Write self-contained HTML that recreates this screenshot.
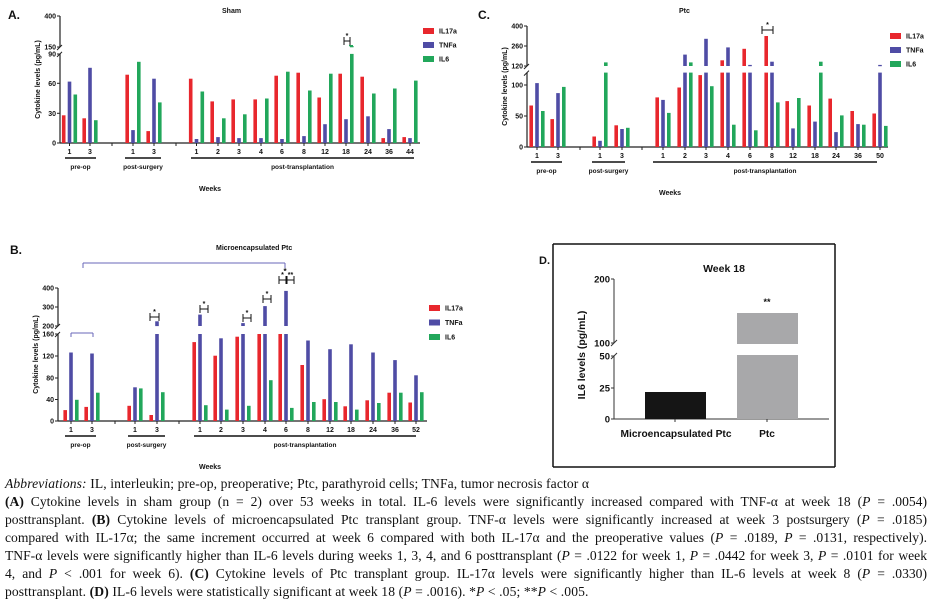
<!DOCTYPE html>
<html><head><meta charset="utf-8"><style>
body{margin:0;background:#fff;width:931px;height:611px;overflow:hidden;position:relative;font-family:"Liberation Sans",sans-serif}
svg{position:absolute;left:0;top:0}
#cap{position:absolute;left:5px;top:475px;width:922px;font-family:"Liberation Serif",serif;font-size:13.6px;line-height:18px;color:#111;letter-spacing:0.1px}
#cap div{white-space:nowrap}
#cap .j{text-align:justify;text-align-last:justify;white-space:normal;letter-spacing:0}
svg text{font-family:"Liberation Sans",sans-serif;fill:#111}
</style></head><body>
<svg id="s" width="931" height="611" xmlns="http://www.w3.org/2000/svg">
<g font-weight="bold">
<text x="8" y="19" font-size="12">A.</text>
<text x="222" y="13" font-size="7">Sham</text>
<text x="478" y="19" font-size="12">C.</text>
<text x="679" y="13" font-size="7">Ptc</text>
<text x="10" y="254" font-size="12">B.</text>
<text x="216" y="250" font-size="7">Microencapsulated Ptc</text>
<text x="539" y="264" font-size="11">D.</text>
<text x="724" y="272" font-size="10.5" text-anchor="middle">Week 18</text>
</g>
<g id="g"></g>
</svg>
<div id="cap">
<div><i>Abbreviations:</i> IL, interleukin; pre-op, preoperative; Ptc, parathyroid cells; TNFa, tumor necrosis factor α</div>
<div class="j"><b>(A)</b> Cytokine levels in sham group (n = 2) over 53 weeks in total. IL-6 levels were significantly increased compared with TNF-α at week 18 (<i>P</i> = .0054)</div>
<div class="j">posttransplant. <b>(B)</b> Cytokine levels of microencapsulated Ptc transplant group. TNF-α levels were significantly increased at week 3 postsurgery (<i>P</i> = .0185)</div>
<div class="j">compared with IL-17α; the same increment occurred at week 6 compared with both IL-17α and the preoperative values (<i>P</i> = .0189, <i>P</i> = .0131, respectively).</div>
<div class="j">TNF-α levels were significantly higher than IL-6 levels during weeks 1, 3, 4, and 6 posttransplant (<i>P</i> = .0122 for week 1, <i>P</i> = .0442 for week 3, <i>P</i> = .0101 for week</div>
<div class="j">4, and <i>P</i> &lt; .001 for week 6). <b>(C)</b> Cytokine levels of Ptc transplant group. IL-17α levels were significantly higher than IL-6 levels at week 8 (<i>P</i> = .0330)</div>
<div>posttransplant. <b>(D)</b> IL-6 levels were statistically significant at week 18 (<i>P</i> = .0016). *<i>P</i> &lt; .05; **<i>P</i> &lt; .005.</div>
</div>
<script>
var G=document.getElementById('g'),h='';
var C=['#e8272d','#4f4ca5','#22a75b'];
function R(x,y,w,hh,c){h+='<rect x="'+x.toFixed(1)+'" y="'+y.toFixed(1)+'" width="'+w+'" height="'+Math.max(hh,1.3).toFixed(1)+'" fill="'+c+'"/>';}
function L(x1,y1,x2,y2,c,w){h+='<line x1="'+x1+'" y1="'+y1+'" x2="'+x2+'" y2="'+y2+'" stroke="'+(c||'#111')+'" stroke-width="'+(w||1)+'"/>';}
function T(x,y,s,fs,a,extra){h+='<text x="'+x+'" y="'+y+'" font-size="'+fs+'" font-weight="bold" text-anchor="'+(a||'middle')+'" '+(extra||'')+'>'+s+'</text>';}
function panel(p){
 var ax=p.ax,z=p.zero;
 function ly(v){return z-v*p.ls;}
 var lt=ly(p.lmax);
 L(ax,z,p.xe,z,'#222',1.2);
 L(ax,lt,ax,z,'#222',1.2);
 L(ax,p.ub,ax,p.ut,'#222',1.2);
 L(ax-3,lt+3,ax+2,lt-2,'#222',1);L(ax-3,p.ub+3,ax+2,p.ub-2,'#222',1);
 p.yt.forEach(function(t){var y=t[1];L(ax-3,y,ax,y,'#222',1);T(ax-4,y+2.5,t[0],7,'end');});
 p.br.forEach(function(b){L(b,z,b,z+3,'#222',1);});
 p.d.forEach(function(g,i){var cx=p.xs[i];
  g.forEach(function(v,j){var x=cx+(j-1)*5.8-1.8;
   if(v<=p.lmax){R(x,ly(v),3.6,v*p.ls,C[j]);}
   else{R(x,lt,3.6,z-lt,C[j]);var uh=(v-p.ubv)*p.us;R(x,p.ub-uh,3.6,uh,C[j]);}
  });
  L(cx,z,cx,z+3,'#222',1);
  T(cx,z+11,p.lab[i],7);
 });
 p.grp.forEach(function(g){L(g[0],z+15,g[1],z+15,'#111',1.4);T((g[0]+g[1])/2,z+26,g[2],6.5,'middle','font-weight="normal"');});
 T(p.wx,z+48,'Weeks',7);
 h+='<text transform="translate('+(ax-20)+','+((p.ut+z)/2)+') rotate(-90)" font-size="7" font-weight="bold" text-anchor="middle">Cytokine levels (pg/mL)</text>';
 ['IL17a','TNFa','IL6'].forEach(function(s,j){var y=p.lg[1]+j*p.lg[2];R(p.lg[0],y-3,11,6,C[j]);T(p.lg[0]+16,y+2.5,s,7,'start');});
}
panel({ax:60,zero:143,ls:0.99,lmax:90,ub:47,ubv:150,us:0.124,ut:16,xe:420,
 yt:[['400',16],['150',47],['90',54],['60',83.3],['30',113.3],['0',143]],br:[112,176],
 xs:[69.5,90,133,154,196.5,218,239,261,282,304,325,346,368,389,410],
 lab:['1','3','1','3','1','2','3','4','6','8','12','18','24','36','44'],
 d:[[28,62,49],[25,76,23],[69,13,82],[12,65,41],[65,4,52],[42,6,25],[44,5,29],[44,5,45],[68,4,72],[71,7,53],[46,19,70],[70,24,158],[67,27,50],[5,14,55],[6,5,63]],
 grp:[[65,96,'pre-op'],[125,161,'post-surgery'],[191,414,'post-transplantation']],wx:210,lg:[423,31,14]});
panel({ax:527,zero:147,ls:0.62,lmax:120,ub:66,ubv:120,us:0.143,ut:26,xe:888,
 yt:[['400',26],['260',46],['120',66],['100',85],['50',116],['0',147]],br:[580,642],
 xs:[537,558,600,622,663,685,706,728,750,772,793,815,836,858,880],
 lab:['1','3','1','3','1','2','3','4','6','8','12','18','24','36','50'],
 d:[[67,103,58],[45,87,97],[17,10,145],[35,29,31],[80,76,55],[96,200,145],[116,310,98],[160,250,36],[240,128,27],[330,150,72],[74,30,79],[67,41,150],[78,24,51],[58,37,36],[54,128,34]],
 grp:[[531,562,'pre-op'],[592,625,'post-surgery'],[653,877,'post-transplantation']],wx:670,lg:[890,36,14]});
panel({ax:58,zero:421,ls:0.544,lmax:160,ub:326,ubv:200,us:0.19,ut:288,xe:427,
 yt:[['400',288],['300',307],['200',326],['160',334],['120',356],['80',378],['40',399.5],['0',421]],br:[115,179],
 xs:[71,92,135,157,200,221,243,265,286,308,330,351,373,395,416],
 lab:['1','3','1','3','1','2','3','4','6','8','12','18','24','36','52'],
 d:[[20,126,39],[26,124,52],[28,62,60],[11,225,53],[145,260,29],[120,152,21],[155,215,28],[160,305,75],[160,385,24],[103,148,35],[40,132,35],[27,141,21],[38,126,33],[52,112,52],[34,84,53]],
 grp:[[65,96,'pre-op'],[128,165,'post-surgery'],[194,416,'post-transplantation']],wx:210,lg:[429,308,14.5]});
var bl='#6a67b8';
L(83,263,285,263,bl,1);L(83,263,83,268,bl,1);L(285,263,285,268,bl,1);T(285,274,'*',8,'middle','fill="#6a67b8"');
L(71,333,93,333,bl,1);L(71,333,71,337,bl,1);L(93,333,93,337,bl,1);
function brk(x1,x2,y,s){L(x1,y,x2,y);L(x1,y-4,x1,y+4);L(x2,y-4,x2,y+4);T((x1+x2)/2,y-3,s,7);}
brk(150,159,317,'*');brk(200,208,309,'*');brk(243,251,318,'*');brk(263,271,299,'*');brk(279,286,280,'*');brk(287,294,280,'**');
brk(344,350,41,'*');R(349,45,4,1.3,C[2]);
brk(762,773,30,'*');
L(553,244,835,244,'#111',1.5);L(553,467,835,467,'#111',1.5);L(553,244,553,467,'#111',1.5);L(835,244,835,467,'#111',1.5);
L(614,419,829,419,'#333',1);L(614,279,614,343,'#333',1);L(614,356,614,419,'#333',1);
L(611,346,617,340,'#333',1);L(611,359,617,353,'#333',1);
[['200',279],['100',343],['50',356],['25',388],['0',419]].forEach(function(t){L(611,t[1],614,t[1],'#333',1);h+='<text x="610" y="'+(t[1]+3.5)+'" font-size="9.5" font-weight="bold" text-anchor="end">'+t[0]+'</text>';});
R(645,392,61,27,'#151515');R(737,313,61,31,'#a8a8aa');R(737,355,61,64,'#a8a8aa');
L(675,419,675,422,'#333',1);L(767,419,767,422,'#333',1);
h+='<text x="676" y="437" font-size="10.2" font-weight="bold" text-anchor="middle">Microencapsulated Ptc</text>';
h+='<text x="767" y="437" font-size="10.2" font-weight="bold" text-anchor="middle">Ptc</text>';
h+='<text x="767" y="305" font-size="9" font-weight="bold" text-anchor="middle">**</text>';
h+='<text transform="translate(585,355) rotate(-90)" font-size="10.5" font-weight="bold" text-anchor="middle">IL6 levels (pg/mL)</text>';
G.innerHTML=h;
</script>
</body></html>
